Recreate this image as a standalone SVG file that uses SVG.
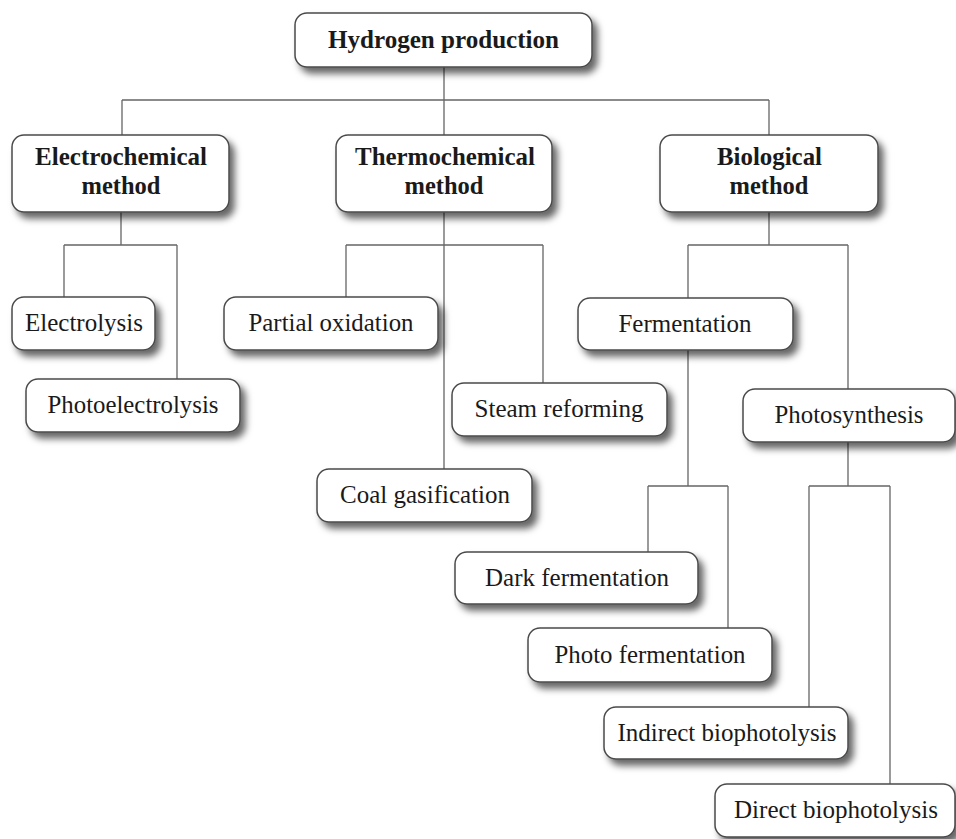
<svg xmlns="http://www.w3.org/2000/svg" width="956" height="839" viewBox="0 0 956 839">
<defs>
<filter id="sh" x="-10%" y="-20%" width="130%" height="170%">
<feDropShadow dx="5" dy="6" stdDeviation="3.5" flood-color="#000" flood-opacity="0.6"/>
</filter>
<style>
.box{fill:#fff;stroke:#4a4a4a;stroke-width:1.5;filter:url(#sh)}
.t{font-family:"Liberation Serif","Times New Roman",serif;font-size:25px;fill:#1a1a1a;text-anchor:middle}
.b{font-weight:bold}
.c{fill:none;stroke:#666;stroke-width:1.3}
</style>
</defs>
<rect width="956" height="839" fill="#fff"/>
<g id="connectors">
<path class="c" d="M444 67V100M122 100H769M122 100V135M444 100V135M769 100V135"/>
<path class="c" d="M121 212V245M64 245H177M64 245V297M177 245V379"/>
<path class="c" d="M444 212V469M346 245H543M346 245V297M543 245V383"/>
<path class="c" d="M769 212V245M688 245H848M688 245V298M848 245V389"/>
<path class="c" d="M688 350V486M648 486H728M648 486V552M728 486V628"/>
<path class="c" d="M848 442V486M809 486H890M809 486V707M890 486V784"/>
</g>
<g id="root"><rect class="box" x="295" y="13" width="297" height="54" rx="12"/><text class="t b" x="443.5" y="48" textLength="231" lengthAdjust="spacingAndGlyphs">Hydrogen production</text></g>
<g id="electrochemical"><rect class="box" x="12" y="135" width="217" height="77" rx="12"/><text class="t b" x="121" y="165" textLength="172" lengthAdjust="spacingAndGlyphs">Electrochemical</text><text class="t b" x="121" y="194" textLength="79" lengthAdjust="spacingAndGlyphs">method</text></g>
<g id="thermochemical"><rect class="box" x="336" y="135" width="216" height="77" rx="12"/><text class="t b" x="445" y="165" textLength="180" lengthAdjust="spacingAndGlyphs">Thermochemical</text><text class="t b" x="444" y="194" textLength="79" lengthAdjust="spacingAndGlyphs">method</text></g>
<g id="biological"><rect class="box" x="660" y="135" width="218" height="77" rx="12"/><text class="t b" x="769.5" y="165" textLength="105" lengthAdjust="spacingAndGlyphs">Biological</text><text class="t b" x="769" y="194" textLength="79" lengthAdjust="spacingAndGlyphs">method</text></g>
<g id="electrolysis"><rect class="box" x="12" y="297" width="143" height="53" rx="12"/><text class="t" x="84" y="331" textLength="118" lengthAdjust="spacingAndGlyphs">Electrolysis</text></g>
<g id="photoelectrolysis"><rect class="box" x="26" y="379" width="214" height="53" rx="12"/><text class="t" x="133" y="413" textLength="171" lengthAdjust="spacingAndGlyphs">Photoelectrolysis</text></g>
<g id="partial-oxidation"><rect class="box" x="224" y="297" width="214" height="53" rx="12"/><text class="t" x="331" y="331" textLength="165" lengthAdjust="spacingAndGlyphs">Partial oxidation</text></g>
<g id="steam-reforming"><rect class="box" x="452" y="383" width="215" height="53" rx="12"/><text class="t" x="559" y="417" textLength="169" lengthAdjust="spacingAndGlyphs">Steam reforming</text></g>
<g id="coal-gasification"><rect class="box" x="317" y="469" width="215" height="53" rx="12"/><text class="t" x="425" y="503" textLength="170" lengthAdjust="spacingAndGlyphs">Coal gasification</text></g>
<g id="fermentation"><rect class="box" x="578" y="298" width="215" height="52" rx="12"/><text class="t" x="685" y="332" textLength="133" lengthAdjust="spacingAndGlyphs">Fermentation</text></g>
<g id="photosynthesis"><rect class="box" x="743" y="389" width="212" height="53" rx="12"/><text class="t" x="849" y="423" textLength="149" lengthAdjust="spacingAndGlyphs">Photosynthesis</text></g>
<g id="dark-fermentation"><rect class="box" x="455" y="552" width="243" height="52" rx="12"/><text class="t" x="577" y="586" textLength="184" lengthAdjust="spacingAndGlyphs">Dark fermentation</text></g>
<g id="photo-fermentation"><rect class="box" x="528" y="628" width="244" height="54" rx="12"/><text class="t" x="650" y="663" textLength="191" lengthAdjust="spacingAndGlyphs">Photo fermentation</text></g>
<g id="indirect-biophotolysis"><rect class="box" x="604" y="707" width="244" height="52" rx="12"/><text class="t" x="727" y="741" textLength="219" lengthAdjust="spacingAndGlyphs">Indirect biophotolysis</text></g>
<g id="direct-biophotolysis"><rect class="box" x="715" y="784" width="240" height="53" rx="12"/><text class="t" x="836" y="818" textLength="204" lengthAdjust="spacingAndGlyphs">Direct biophotolysis</text></g>
</svg>
